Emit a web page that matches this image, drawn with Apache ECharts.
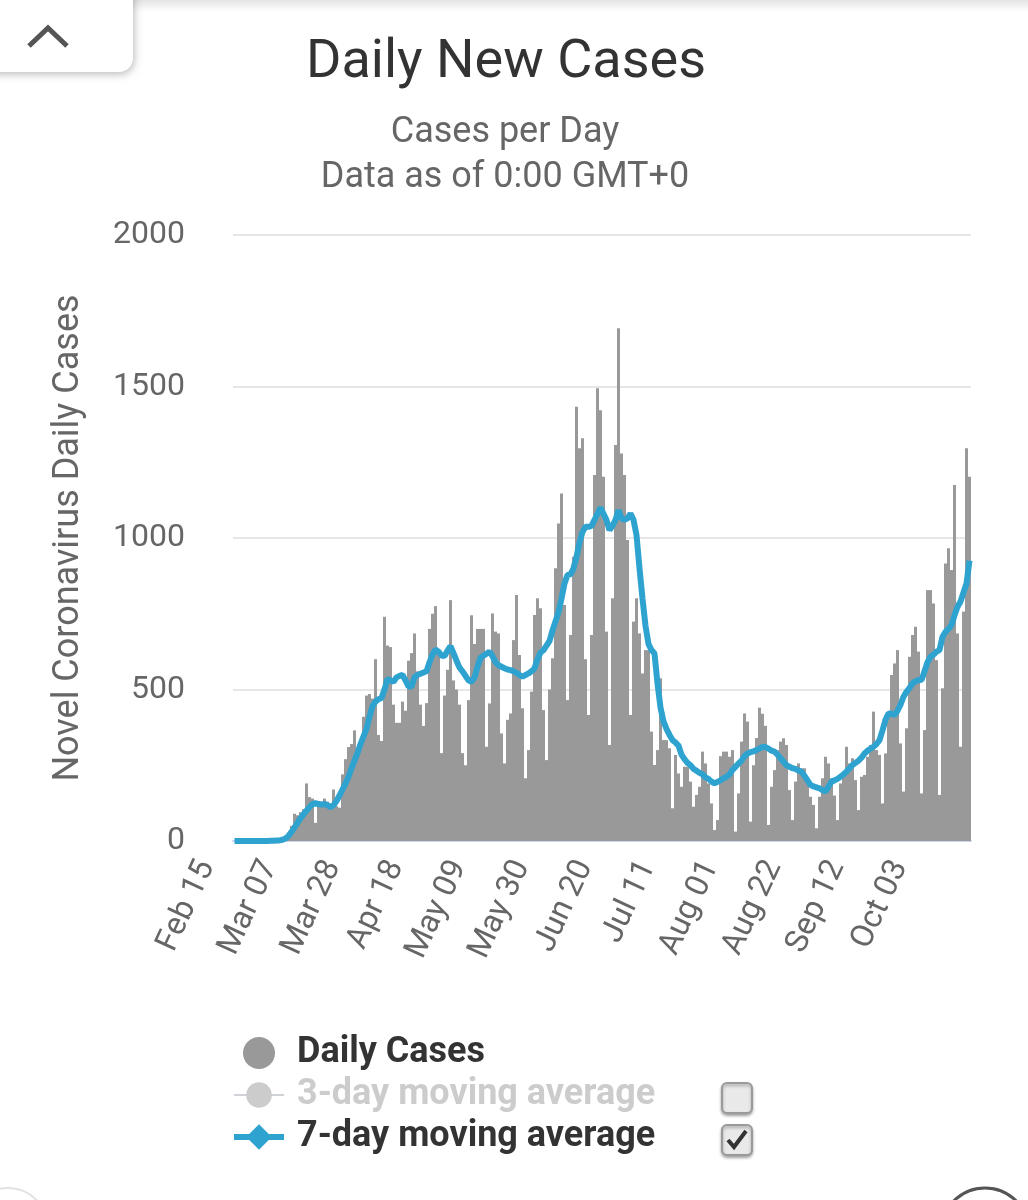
<!DOCTYPE html>
<html>
<head>
<meta charset="utf-8">
<script src="https://cdn.jsdelivr.net/npm/echarts@6/dist/echarts.min.js"></script>
<style>
  html, body { margin: 0; padding: 0; background: #fff; overflow: hidden; }
  #chart { width: 1028px; height: 1200px; }
</style>
</head>
<body>
<div id="chart"></div>
<script>
// ---- data ----
const startDate = '2020-02-15';
const dayCount = 246;
const tickLabels = ['Feb 15','Mar 07','Mar 28','Apr 18','May 09','May 30','Jun 20','Jul 11','Aug 01','Aug 22','Sep 12','Oct 03'];

const dailyCases = [
  0,0,0,0,0,0,0,0,0,0,0,1,5,1,5,0,3,16,20,
  50,90,85,95,105,190,145,140,60,120,130,140,130,110,170,115,110,220,270,310,320,
  365,290,310,410,480,485,470,600,350,330,740,645,640,450,390,390,460,430,595,620,
  685,560,450,380,455,700,750,775,620,290,480,565,795,530,500,450,290,250,465,745,
  650,700,700,700,311,454,751,691,685,355,256,400,421,663,812,614,438,207,300,493,
  746,801,768,432,267,500,603,900,1048,1147,779,465,680,938,1433,1296,1329,600,416,680,
  1208,1494,1422,1202,691,317,801,1307,1692,1279,1208,993,416,724,801,685,553,630,630,361,
  251,300,537,333,333,306,108,284,223,179,245,245,196,113,152,179,295,256,190,124,
  36,69,280,295,295,278,300,31,157,328,421,394,64,250,340,440,420,380,53,179,
  234,300,328,339,317,168,69,196,256,240,240,190,146,119,42,146,207,278,256,207,
  150,69,190,218,311,256,273,201,102,212,218,278,317,427,300,284,124,289,427,548,
  586,630,322,163,372,608,680,707,625,157,366,828,828,784,597,152,504,916,966,894,
  1175,685,311,757,1296,1202
];

const movingAvg7 = [
  0,0,0,0,0,0,0,0,0,0,0,0,1,1,2,
  2,4,8,17,30,45,60,75,88,100,112,122,125,122,120,122,118,112,118,132,
  150,170,190,212,240,265,290,320,345,370,410,445,460,468,472,500,535,530,525,540,
  545,548,530,510,510,540,548,552,556,560,590,615,632,625,612,610,628,643,620,595,
  572,560,545,530,525,540,575,605,612,618,625,610,590,580,575,570,566,564,560,555,
  548,542,548,553,560,570,600,622,630,645,660,695,725,755,800,850,878,880,900,938,
  985,1020,1037,1037,1040,1060,1080,1100,1080,1059,1026,1040,1060,1092,1065,1060,1065,1081,1060,1010,
  900,800,710,650,630,619,520,440,395,370,350,333,325,315,285,270,258,250,238,232,
  225,220,210,205,196,190,195,200,207,212,220,235,245,256,265,280,289,293,296,300,
  305,311,310,305,298,295,285,273,262,250,245,240,238,232,229,215,200,185,180,177,
  174,168,163,180,196,200,205,212,220,229,240,251,258,265,275,289,298,305,311,320,
  333,365,400,421,420,416,430,450,476,492,505,520,527,531,531,560,590,608,615,625,
  630,674,690,700,713,745,773,790,820,850,925
];

const movingAvg3 = []; // hidden series in the reference (legend item switched off)

const yTicks = { min: 0, max: 2000, interval: 500 };

// category labels (one per day)
const monthNames = ['Jan','Feb','Mar','Apr','May','Jun','Jul','Aug','Sep','Oct','Nov','Dec'];
const categories = [];
{
  const d0 = new Date(startDate + 'T00:00:00Z');
  for (let i = 0; i < dayCount; i++) {
    const d = new Date(d0.getTime() + i * 86400000);
    const dd = String(d.getUTCDate()).padStart(2, '0');
    categories.push(monthNames[d.getUTCMonth()] + ' ' + dd);
  }
}

const FONT = 'Roboto, "Noto Sans", sans-serif';
const BLUE = '#2fa3d0';
const chart = echarts.init(document.getElementById('chart'), null, { renderer: 'canvas' });

const option = {
  backgroundColor: '#ffffff',
  animation: false,
  textStyle: { fontFamily: FONT },
  title: [
    {
      text: 'Daily New Cases',
      left: 501, top: 31, textAlign: 'center',
      textStyle: { fontFamily: FONT, fontSize: 54, fontWeight: 'normal', color: '#333333' }
    },
    {
      text: 'Cases per Day\nData as of 0:00 GMT+0',
      left: 500, top: 105, textAlign: 'center',
      textStyle: { fontFamily: FONT, fontSize: 36, lineHeight: 45, fontWeight: 'normal', color: '#666666' }
    }
  ],
  grid: { left: 233, right: 57, top: 235, bottom: 359, containLabel: false },
  xAxis: {
    type: 'category',
    data: categories,
    boundaryGap: true,
    axisLine: { show: true, lineStyle: { color: '#ccd6eb', width: 2 } },
    axisTick: { show: false },
    axisLabel: {
      interval: 20,
      rotate: 65,
      margin: 0,
      verticalAlign: 'bottom',
      padding: [0, 31, 0, 0],
      fontSize: 32,
      color: '#666666',
      fontFamily: FONT,
      formatter: function (v) { return tickLabels.indexOf(v) >= 0 ? v : ''; }
    },
    splitLine: { show: false }
  },
  yAxis: {
    type: 'value',
    min: yTicks.min, max: yTicks.max, interval: yTicks.interval,
    name: 'Novel Coronavirus Daily Cases',
    nameLocation: 'middle',
    nameRotate: 90,
    nameGap: 146,
    nameTextStyle: { fontFamily: FONT, fontSize: 36, color: '#666666' },
    axisLine: { show: false },
    axisTick: { show: false },
    axisLabel: {
      margin: 48, fontSize: 32, color: '#666666', fontFamily: FONT,
      formatter: function (v) { return String(v); }
    },
    splitLine: { show: true, lineStyle: { color: '#e6e6e6', width: 2 } }
  },
  legend: {
    orient: 'vertical',
    left: 226, top: 1030,
    itemWidth: 50, itemHeight: 32, itemGap: 6,
    inactiveColor: '#cccccc',
    textStyle: { fontFamily: FONT, fontSize: 36, fontWeight: 'bold', color: '#333333', padding: [0, 0, 0, 8] },
    selected: { '3-day moving average': false },
    data: [
      { name: 'Daily Cases', icon: 'circle' },
      { name: '3-day moving average', lineStyle: { width: 6 } },
      { name: '7-day moving average', lineStyle: { width: 6 } }
    ]
  },
  series: [
    {
      name: 'Daily Cases',
      type: 'bar',
      data: dailyCases,
      barCategoryGap: '0%',
      itemStyle: { color: '#999999' },
      z: 2
    },
    {
      name: '3-day moving average',
      type: 'line',
      data: movingAvg3,
      symbol: 'circle',
      showSymbol: false,
      lineStyle: { color: '#cccccc', width: 6 },
      itemStyle: { color: '#cccccc' }
    },
    {
      name: '7-day moving average',
      type: 'line',
      data: movingAvg7,
      symbol: 'diamond',
      showSymbol: false,
      smooth: false,
      lineStyle: { color: BLUE, width: 6 },
      itemStyle: { color: BLUE },
      z: 5
    }
  ],
  graphic: [
    // top shadow strip
    {
      type: 'rect', left: 0, top: 0, z: -1,
      shape: { width: 1028, height: 12 },
      style: { fill: { type: 'linear', x: 0, y: 0, x2: 0, y2: 1,
        colorStops: [{ offset: 0, color: '#e4e4e4' }, { offset: 1, color: '#ffffff' }] } }
    },
    // collapse button
    {
      type: 'rect', z: 10,
      shape: { x: -20, y: -20, width: 153, height: 92, r: 14 },
      style: { fill: '#ffffff', shadowBlur: 8, shadowColor: 'rgba(0,0,0,0.28)', shadowOffsetY: 2, shadowOffsetX: 1 }
    },
    {
      type: 'polyline', z: 11,
      shape: { points: [[29, 46], [48, 28], [67, 46]] },
      style: { stroke: '#555555', lineWidth: 5, fill: null }
    },
    // checkbox (3-day, unchecked)
    {
      type: 'rect', z: 10,
      shape: { x: 722, y: 1083, width: 30, height: 30, r: 5 },
      style: { fill: '#e9e9e9', stroke: '#9a9a9a', lineWidth: 2, shadowBlur: 3, shadowColor: 'rgba(0,0,0,0.3)', shadowOffsetY: 2 }
    },
    // checkbox (7-day, checked)
    {
      type: 'rect', z: 10,
      shape: { x: 722, y: 1125, width: 30, height: 30, r: 5 },
      style: { fill: '#e9e9e9', stroke: '#9a9a9a', lineWidth: 2, shadowBlur: 3, shadowColor: 'rgba(0,0,0,0.3)', shadowOffsetY: 2 }
    },
    {
      type: 'polyline', z: 11,
      shape: { points: [[728, 1140], [734, 1147], [746, 1131]] },
      style: { stroke: '#333333', lineWidth: 4, fill: null }
    },
    // partial round buttons at bottom edge
    {
      type: 'circle', z: 1,
      shape: { cx: 8, cy: 1228, r: 40 },
      style: { fill: '#ffffff', stroke: '#e2e2e2', lineWidth: 2 }
    },
    {
      type: 'circle', z: 1,
      shape: { cx: 985, cy: 1232, r: 44 },
      style: { fill: '#ffffff', stroke: '#555555', lineWidth: 3 }
    }
  ]
};

chart.setOption(option);
</script>
</body>
</html>
